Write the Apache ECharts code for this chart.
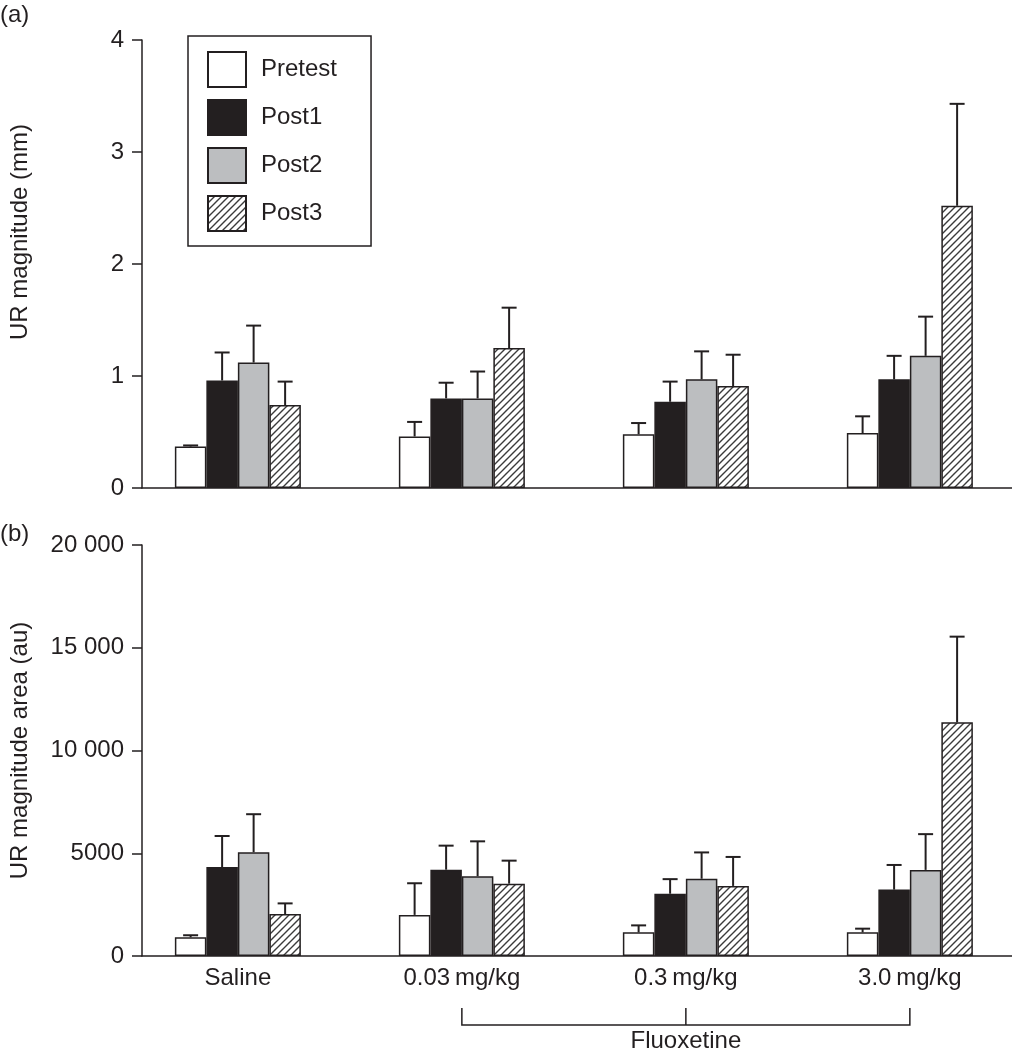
<!DOCTYPE html>
<html><head><meta charset="utf-8">
<script src="https://cdn.jsdelivr.net/npm/echarts@6/dist/echarts.min.js"></script>
<style>html,body{margin:0;padding:0;background:#fff}#c{width:1012px;height:1050px}</style>
</head><body><div id="c"></div>
<script>
// ---- data ----
const categories = ['Saline', '0.03\u2009mg/kg', '0.3\u2009mg/kg', '3.0\u2009mg/kg'];
const seriesNames = ['Pretest', 'Post1', 'Post2', 'Post3'];
const groupLabel = 'Fluoxetine';

// (a) UR magnitude (mm): means and SEM
const magPretest = [0.37, 0.46, 0.48, 0.49];
const magPost1   = [0.96, 0.80, 0.77, 0.97];
const magPost2   = [1.12, 0.80, 0.97, 1.18];
const magPost3   = [0.74, 1.25, 0.91, 2.52];
const magErrPretest = [0.01, 0.13, 0.10, 0.15];
const magErrPost1   = [0.25, 0.14, 0.18, 0.21];
const magErrPost2   = [0.33, 0.24, 0.25, 0.35];
const magErrPost3   = [0.21, 0.36, 0.28, 0.91];

// (b) UR magnitude area (au): means and SEM
const areaPretest = [910, 2000, 1150, 1150];
const areaPost1   = [4330, 4200, 3030, 3230];
const areaPost2   = [5050, 3880, 3760, 4190];
const areaPost3   = [2040, 3520, 3410, 11370];
const areaErrPretest = [100, 1540, 340, 180];
const areaErrPost1   = [1510, 1170, 710, 1200];
const areaErrPost2   = [1850, 1700, 1280, 1740];
const areaErrPost3   = [520, 1120, 1410, 4170];

const magTicks = [0, 1, 2, 3, 4];
const areaTicks = [0, 5000, 10000, 15000, 20000];

// ---- style ----
const INK = '#231f20';
const FONT = '"Liberation Sans", Arial, Helvetica, sans-serif';
const BAR_W = 31.5;
const CAP_HALF = 7.5;
const XMIN = -0.428, XMAX = 3.456;

function hatch() {
  const s = 7;
  const cv = document.createElement('canvas');
  cv.width = s; cv.height = s;
  const g = cv.getContext('2d');
  g.fillStyle = '#ffffff'; g.fillRect(0, 0, s, s);
  g.strokeStyle = '#3b3b3b'; g.lineWidth = 1.4;
  g.beginPath();
  g.moveTo(-1, s + 1); g.lineTo(s + 1, -1);
  g.moveTo(-1, 1); g.lineTo(1, -1);
  g.moveTo(s - 1, s + 1); g.lineTo(s + 1, s - 1);
  g.stroke();
  return cv;
}
const fills = ['#ffffff', INK, '#bcbec0', { image: hatch(), repeat: 'repeat' }];

const magMeans = [magPretest, magPost1, magPost2, magPost3];
const magErrs = [magErrPretest, magErrPost1, magErrPost2, magErrPost3];
const areaMeans = [areaPretest, areaPost1, areaPost2, areaPost3];
const areaErrs = [areaErrPretest, areaErrPost1, areaErrPost2, areaErrPost3];

function fmtArea(v) {
  if (v >= 10000) { const s = String(v); return s.slice(0, s.length - 3) + ' ' + s.slice(-3); }
  return String(v);
}

function barSeries(gi, means) {
  return means.map((arr, k) => ({
    type: 'bar', name: seriesNames[k], xAxisIndex: gi, yAxisIndex: gi,
    barWidth: BAR_W, barGap: '0%',
    itemStyle: { color: fills[k], borderColor: INK, borderWidth: 1.5 },
    data: arr.map((v, i) => [i, v]), z: 2
  }));
}
function errSeries(gi, means, errs) {
  return means.map((arr, k) => ({
    type: 'custom', name: 'err-' + gi + '-' + k, xAxisIndex: gi, yAxisIndex: gi, z: 3,
    encode: { x: 0, y: [1, 3] },
    data: arr.map((v, i) => [i, v, errs[k][i], v + errs[k][i]]),
    renderItem: function (params, api) {
      const x = api.value(0), m = api.value(1), e = api.value(2);
      const b = api.coord([x, m]), t = api.coord([x, m + e]);
      const cx = b[0] + (k - 1.5) * BAR_W;
      const st = { stroke: INK, lineWidth: 2 };
      return { type: 'group', children: [
        { type: 'line', shape: { x1: cx, y1: b[1], x2: cx, y2: t[1] }, style: st },
        { type: 'line', shape: { x1: cx - CAP_HALF, y1: t[1], x2: cx + CAP_HALF, y2: t[1] }, style: st }
      ] };
    }
  }));
}

function xAxis(gi, labels) {
  return {
    type: 'value', gridIndex: gi, min: XMIN, max: XMAX,
    splitLine: { show: false },
    axisLine: { show: true, onZero: false, lineStyle: { color: INK, width: 1.5 } },
    axisTick: { show: false },
    axisLabel: labels ? {
      show: true, customValues: [0, 1, 2, 3], margin: 10,
      formatter: v => categories[Math.round(v)] || '',
      fontSize: 24, color: INK, fontFamily: FONT
    } : { show: false }
  };
}
function yAxis(gi, max, interval, name, fmt, pad) {
  return {
    type: 'value', gridIndex: gi, min: 0, max: max, interval: interval,
    name: name, nameLocation: 'middle', nameGap: 110, nameRotate: 90,
    nameTextStyle: { fontSize: 24, color: INK, fontFamily: FONT, padding: pad },
    splitLine: { show: false },
    axisLine: { show: true, onZero: false, lineStyle: { color: INK, width: 1.5 } },
    axisTick: { show: true, length: 10, lineStyle: { color: INK, width: 1.5 } },
    axisLabel: { margin: 18, fontSize: 24, color: INK, fontFamily: FONT, formatter: fmt }
  };
}

const chart = echarts.init(document.getElementById('c'), null, { renderer: 'canvas' });
chart.setOption({
  animation: false,
  backgroundColor: '#ffffff',
  textStyle: { fontFamily: FONT, color: INK },
  grid: [
    { left: 138, top: 40, height: 448, right: 0 },
    { left: 138, top: 545, height: 411, right: 0 }
  ],
  xAxis: [xAxis(0, false), xAxis(1, true)],
  yAxis: [
    yAxis(0, 4, 1, 'UR magnitude (mm)', v => String(v), [0, 0, 0, 64]),
    yAxis(1, 20000, 5000, 'UR magnitude area (au)', fmtArea, [0, 0, 0, 0])
  ],
  legend: {
    data: seriesNames, orient: 'vertical', left: 188, top: 36,
    icon: 'rect', itemWidth: 38, itemHeight: 35, itemGap: 11,
    padding: [15, 34, 14, 19], borderColor: INK, borderWidth: 1.5,
    selectedMode: false,
    textStyle: { fontSize: 24, color: INK, fontFamily: FONT, padding: [0, 0, 0, 10] }
  },
  series: [].concat(
    barSeries(0, magMeans), errSeries(0, magMeans, magErrs),
    barSeries(1, areaMeans), errSeries(1, areaMeans, areaErrs)
  )
});

// panel letters and Fluoxetine bracket
const px = v => chart.convertToPixel({ xAxisIndex: 1 }, v);
const xl = px(1), xm = px(2), xr = px(3);
const bY = 1025, tY = 1008;
const lineStyle = { stroke: INK, lineWidth: 1.5 };
chart.setOption({
  graphic: [
    { type: 'text', left: 0, top: 3, style: { text: '(a)', font: '24px ' + FONT, fill: INK } },
    { type: 'text', left: 0, top: 522, style: { text: '(b)', font: '24px ' + FONT, fill: INK } },
    { type: 'polyline', shape: { points: [[xl, tY], [xl, bY], [xr, bY], [xr, tY]] }, style: Object.assign({ fill: null }, lineStyle) },
    { type: 'line', shape: { x1: xm, y1: tY, x2: xm, y2: bY }, style: lineStyle },
    { type: 'text', x: (xl + xr) / 2, y: 1041, style: { text: groupLabel, font: '24px ' + FONT, fill: INK, align: 'center', verticalAlign: 'middle' } }
  ]
});
</script></body></html>
